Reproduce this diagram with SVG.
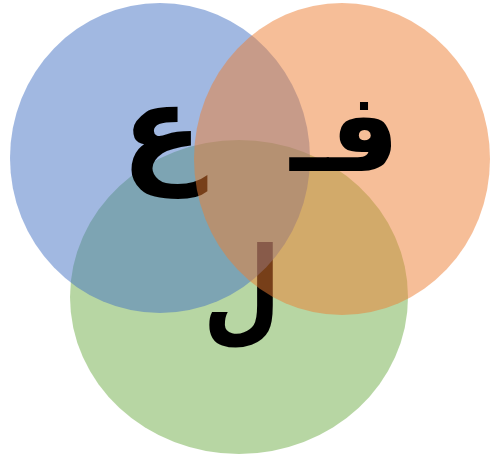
<svg xmlns="http://www.w3.org/2000/svg" width="490" height="458" viewBox="0 0 490 458">
<style>
.t{font-family:"DejaVu Sans","Noto Sans",sans-serif;font-weight:bold;fill:#000;text-anchor:middle}
</style>
<rect width="490" height="458" fill="#fff"/>
<g id="node-green">
<ellipse cx="239" cy="297" rx="169" ry="157" fill="#70AD47" fill-opacity="0.5"/>
<text class="t" font-size="115" transform="translate(242,329) scale(0.78,1)" x="0" y="0">ل</text>
</g>
<g id="node-blue">
<ellipse cx="160" cy="158" rx="150" ry="155" fill="#4472C4" fill-opacity="0.5"/>
<text class="t" font-size="120" x="162" y="170">ع</text>
</g>
<g id="node-orange">
<ellipse cx="342" cy="159" rx="148" ry="156" fill="#ED7D31" fill-opacity="0.5"/>
<text class="t" font-size="110" x="345" y="171">فـ</text>
</g>
</svg>
